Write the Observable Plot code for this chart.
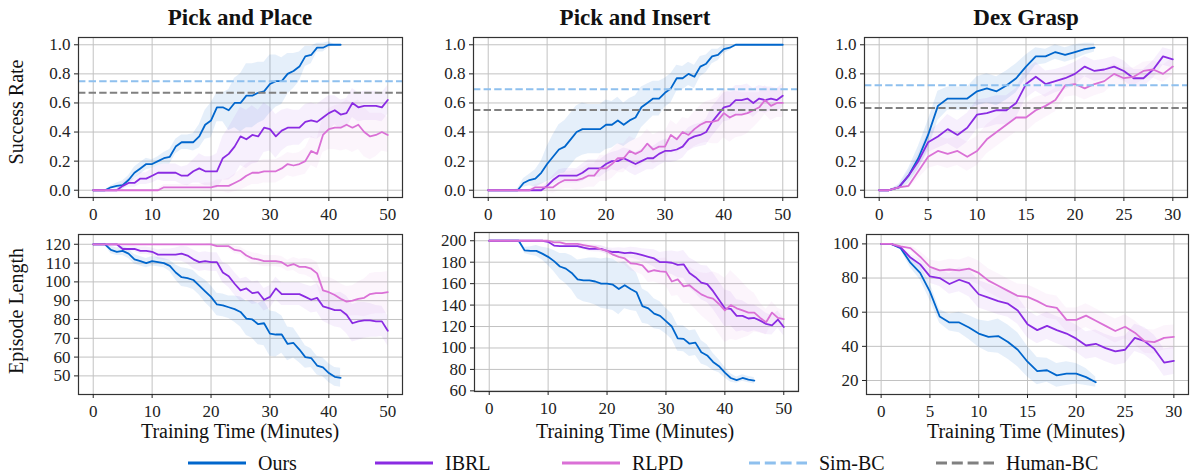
<!DOCTYPE html>
<html><head><meta charset="utf-8">
<script src="https://cdn.jsdelivr.net/npm/d3@7"></script>
<script src="https://cdn.jsdelivr.net/npm/@observablehq/plot@0.6"></script>
<style>
body{margin:0;background:#fff;}
#root{position:relative;width:1190px;height:472px;overflow:hidden;font-family:"Liberation Serif","Times New Roman",serif;background:#fff;}
#root svg.panel{position:absolute;}
#overlay{position:absolute;left:0;top:0;}
</style></head><body><div id="root"></div>
<script>
// ---------- categories / labels ----------
const methods = ["Ours", "IBRL", "RLPD", "Sim-BC", "Human-BC"];
const taskTitles = ["Pick and Place", "Pick and Insert", "Dex Grasp"];
const rowLabels = ["Success Rate", "Episode Length"];
const xLabel = "Training Time (Minutes)";
const xTicksLong = [0, 10, 20, 30, 40, 50];
const xTicksShort = [0, 5, 10, 15, 20, 25, 30];
const yTicksSuccess = [0, 0.2, 0.4, 0.6, 0.8, 1.0];
const yTicksPPLen = [50, 60, 70, 80, 90, 100, 110, 120];
const yTicksPILen = [60, 80, 100, 120, 140, 160, 180, 200];
const yTicksDexLen = [20, 40, 60, 80, 100];

// ---------- Pick and Place : success rate (index = minute) ----------
const ppSuccOurs = [0,0,0,0.02,0.03,0.035,0.07,0.12,0.15,0.18, 0.18,0.2,0.22,0.23,0.3,0.33,0.33,0.33,0.37,0.45, 0.48,0.57,0.57,0.55,0.6,0.6,0.65,0.65,0.67,0.68, 0.73,0.75,0.75,0.8,0.82,0.85,0.92,0.93,0.98,0.98, 1,1,1];
const ppSuccOursStd = [0,0,0,0.01,0.02,0.03,0.03,0.04,0.04,0.04, 0.03,0.03,0.04,0.05,0.05,0.05,0.05,0.06,0.08,0.1, 0.12,0.1,0.1,0.14,0.17,0.2,0.22,0.22,0.21,0.2, 0.2,0.18,0.16,0.14,0.12,0.1,0.07,0.06,0.03,0.03, 0.02,0,0];
const ppSuccIBRL = [0,0,0,0,0,0.03,0.05,0.05,0.08,0.08, 0.1,0.12,0.12,0.12,0.12,0.1,0.1,0.13,0.15,0.13, 0.13,0.13,0.22,0.25,0.3,0.37,0.35,0.38,0.37,0.43, 0.42,0.37,0.41,0.43,0.43,0.43,0.47,0.48,0.47,0.5, 0.53,0.55,0.52,0.53,0.6,0.57,0.58,0.58,0.58,0.57, 0.62];
const ppSuccIBRLStd = [0,0,0,0,0.01,0.02,0.03,0.03,0.04,0.04, 0.05,0.05,0.06,0.06,0.06,0.06,0.07,0.08,0.1,0.1, 0.1,0.12,0.15,0.18,0.2,0.2,0.2,0.2,0.18,0.17, 0.15,0.15,0.14,0.13,0.12,0.12,0.12,0.12,0.12,0.12, 0.12,0.1,0.1,0.1,0.1,0.1,0.1,0.1,0.1,0.1, 0.1];
const ppSuccRLPD = [0,0,0,0,0,0,0,0,0,0, 0,0,0.02,0.02,0.02,0.02,0.02,0.02,0.02,0.02, 0.02,0.03,0.03,0.03,0.05,0.07,0.1,0.12,0.12,0.13, 0.13,0.13,0.15,0.18,0.17,0.18,0.2,0.27,0.25,0.38, 0.42,0.43,0.43,0.45,0.43,0.45,0.4,0.37,0.38,0.4, 0.38];
const ppSuccRLPDStd = [0,0,0,0,0,0,0,0,0,0, 0,0.01,0.02,0.02,0.02,0.02,0.02,0.02,0.02,0.03, 0.03,0.04,0.04,0.05,0.06,0.07,0.08,0.08,0.08,0.08, 0.08,0.08,0.08,0.08,0.08,0.08,0.09,0.1,0.1,0.12, 0.14,0.15,0.16,0.17,0.17,0.17,0.17,0.16,0.15,0.13, 0.12];
const ppSimBC = 0.75;
const ppHumanBC = 0.67;

// ---------- Pick and Insert : success rate ----------
const piSuccOurs = [0,0,0,0,0,0,0.05,0.07,0.08,0.12, 0.18,0.23,0.28,0.3,0.35,0.4,0.42,0.42,0.42,0.42, 0.45,0.45,0.48,0.45,0.48,0.5,0.57,0.6,0.63,0.63, 0.67,0.7,0.77,0.77,0.8,0.78,0.85,0.87,0.92,0.93, 0.97,0.98,1,1,1,1,1,1,1,1, 1];
const piSuccOursStd = [0,0,0,0,0,0.01,0.03,0.04,0.06,0.08, 0.12,0.15,0.17,0.18,0.18,0.18,0.18,0.17,0.17,0.17, 0.17,0.16,0.16,0.15,0.15,0.15,0.14,0.13,0.12,0.12, 0.1,0.1,0.09,0.08,0.08,0.08,0.07,0.06,0.05,0.04, 0.03,0.02,0,0,0,0,0,0,0,0, 0];
const piSuccIBRL = [0,0,0,0,0,0,0,0,0,0, 0.03,0.07,0.1,0.1,0.1,0.1,0.12,0.15,0.15,0.15, 0.18,0.2,0.2,0.22,0.2,0.18,0.2,0.22,0.22,0.25, 0.27,0.27,0.28,0.3,0.35,0.37,0.38,0.4,0.47,0.52, 0.57,0.58,0.62,0.62,0.63,0.6,0.63,0.62,0.63,0.62, 0.65];
const piSuccIBRLStd = [0,0,0,0,0,0,0,0,0,0.01, 0.02,0.03,0.04,0.05,0.05,0.05,0.06,0.06,0.06,0.06, 0.06,0.06,0.07,0.07,0.08,0.08,0.08,0.08,0.08,0.08, 0.08,0.08,0.08,0.08,0.08,0.08,0.08,0.09,0.1,0.1, 0.1,0.1,0.1,0.1,0.1,0.1,0.09,0.09,0.08,0.08, 0.08];
const piSuccRLPD = [0,0,0,0,0,0,0,0,0.02,0.02, 0.02,0.02,0.05,0.07,0.07,0.07,0.08,0.1,0.1,0.15, 0.15,0.18,0.22,0.22,0.27,0.25,0.27,0.32,0.28,0.3, 0.3,0.38,0.35,0.4,0.38,0.42,0.45,0.47,0.47,0.48, 0.53,0.5,0.52,0.52,0.53,0.55,0.57,0.62,0.58,0.6, 0.6];
const piSuccRLPDStd = [0,0,0,0,0,0,0,0.01,0.02,0.03, 0.03,0.04,0.05,0.06,0.06,0.07,0.07,0.08,0.08,0.09, 0.09,0.1,0.1,0.1,0.1,0.1,0.1,0.1,0.1,0.1, 0.1,0.1,0.1,0.1,0.11,0.12,0.13,0.14,0.15,0.16, 0.17,0.17,0.16,0.15,0.14,0.12,0.1,0.1,0.1,0.1, 0.1];
const piSimBC = 0.694;
const piHumanBC = 0.551;

// ---------- Dex Grasp : success rate ----------
const dxSuccOurs = [0,0,0.02,0.1,0.22,0.38,0.58,0.63,0.63,0.63, 0.68,0.7,0.68,0.72,0.77,0.85,0.92,0.92,0.95,0.93, 0.95,0.97,0.98];
const dxSuccOursStd = [0,0,0.02,0.05,0.08,0.1,0.1,0.08,0.08,0.08, 0.1,0.1,0.1,0.1,0.1,0.08,0.06,0.05,0.05,0.05, 0.05,0.04,0.03];
const dxSuccIBRL = [0,0,0.02,0.1,0.2,0.33,0.37,0.42,0.38,0.43, 0.52,0.53,0.55,0.55,0.6,0.73,0.78,0.73,0.75,0.77, 0.8,0.85,0.82,0.83,0.85,0.82,0.77,0.77,0.83,0.92, 0.9];
const dxSuccIBRLStd = [0,0,0.01,0.03,0.05,0.07,0.08,0.1,0.1,0.1, 0.1,0.1,0.1,0.1,0.1,0.1,0.1,0.09,0.08,0.08, 0.08,0.07,0.07,0.07,0.07,0.07,0.06,0.06,0.06,0.06, 0.06];
const dxSuccRLPD = [0,0,0.02,0.03,0.13,0.23,0.27,0.25,0.27,0.23, 0.27,0.35,0.4,0.45,0.5,0.5,0.55,0.58,0.62,0.72, 0.73,0.7,0.73,0.75,0.8,0.77,0.78,0.82,0.83,0.8, 0.85];
const dxSuccRLPDStd = [0,0,0.01,0.02,0.05,0.08,0.1,0.1,0.1,0.1, 0.1,0.1,0.1,0.1,0.1,0.1,0.09,0.08,0.08,0.08, 0.08,0.08,0.08,0.08,0.07,0.07,0.06,0.06,0.06,0.06, 0.06];
const dxSimBC = 0.722;
const dxHumanBC = 0.565;

// ---------- Pick and Place : episode length ----------
const ppLenOurs = [120,120,120,117,116,116.5,115,112,111,110, 111,110.5,110,108.5,105,102.5,102,101,98,95, 92,88,87.5,86.5,85.5,84,80.5,80,77.5,78, 72.5,72,72,67,67.5,64,60,59.5,55.5,54.5, 51.5,49.5,49];
const ppLenOursStd = [0,0,0.5,2,2,2.5,2.5,2.5,2.5,2.5, 2.5,2.5,2.5,3,4,5,5,5,5,6, 6,6,6,6,7,8,9,10,11,12, 12,12,10,9,8,7,6,5,5,5, 5,5,5];
const ppLenIBRL = [120,120,120,120,120,117.5,117.5,117.5,116.5,116.5, 116,114.5,114.5,114.5,114.5,115,114,112,110.5,111, 110.5,110.5,105,103,99,95.5,96.5,94,94.5,90.5, 92,96.5,93.5,93.5,93.5,93.5,92,90.5,91.5,87, 86,85,85,82.5,78,79,79.5,79.5,79,79, 74];
const ppLenIBRLStd = [0,0,0,0,0.5,1,1.5,1.5,2,2, 2,2.5,3,3,3.5,4,4.5,5,5,5, 5,5,5.5,6,6,6,6,6,6,6, 6,6,6,6,6,6,6.5,7,7.5,8, 8.5,9,9.5,10,10,10,9.5,9,8.5,8, 8];
const ppLenRLPD = [120,120,120,120,120,120,120,120,120,120, 120,120,120,120,120,120,120,120,120,120, 120,119,119,119,117,116.5,114,112.5,112,111, 111,111,110.5,108.5,109.5,108,108,107,104.5,95.5, 94.5,93,91,89.5,90,91,91.5,93.5,94,94, 94.5];
const ppLenRLPDStd = [0,0,0,0,0,0,0,0,0,0, 0,0,0,0,0,0,0,0,0,0, 0.5,1,1,1.5,2,2,2.5,3,3,3, 3,3,3,3,3.5,4,4.5,5,6,7, 8,8,8,8,8,9,10,11,11,11, 11];

// ---------- Pick and Insert : episode length ----------
const piLenOurs = [200,200,200,200,200,200,191,190.5,190.5,188, 185,181,176,174,170,164,163,163,162,160, 160,159,155,158.5,155,152,139,137,132,130, 125,120,109,108.5,104,105,96,93,87,83, 77,72,70,72,70.5,69.5];
const piLenOursStd = [0,0,0,0,0,0,3,4,5,6, 8,10,12,14,16,18,20,21,22,23, 24,24,24,22,20,18,16,15,14,13, 12,12,12,12,12,12,11,10,8,6, 5,4,3,3,3,3];
const piLenIBRL = [200,200,200,200,200,200,200,200,200,200, 199,195.5,195,195,195,195,193.5,192.5,192.5,192.5, 190.5,189.5,189.5,188.5,189,188,186.5,185,183.5,180, 180,179.5,177.5,178,170,166,161,159.5,153,145, 137,136.5,130,130,127.5,128,125.5,122.5,121,126.5, 119.5];
const piLenIBRLStd = [0,0,0,0,0,0,0,0,0,0, 0.5,1,1,1.5,1.5,2,2,2.5,3,3, 3,3.5,4,4.5,5,5.5,6,7,8,9, 10,11,12,13,14,15,16,17,17,17, 17,16,15,14,13,12,11,10,9,8, 8];
const piLenRLPD = [200,200,200,200,200,200,200,200,200,200, 200,198.5,198.5,197,197,197,196,195,194,192, 190.5,187,185,183.5,179,178.5,177,171,172.5,171.5, 171,162,164,157.5,158.5,154,150,147.5,146,141, 135,140,137,135,133,133,128,124,133,128, 127];
const piLenRLPDStd = [0,0,0,0,0,0,0,0,0,0, 0,0.5,1,1,1.5,1.5,2,2,2.5,3, 3,4,5,6,7,8,9,10,11,12, 13,14,15,16,17,18,20,22,25,28, 30,32,30,26,22,18,14,12,10,9, 8];

// ---------- Dex Grasp : episode length ----------
const dxLenOurs = [100,100,97.5,89,83,72,57.5,54,54,51, 47.5,45.5,46,42.5,38,31,25.5,26,23,24, 24,22,19];
const dxLenOursStd = [0,0,1,3,4,5,4,5,6,7, 8,9,10,10,10,9,8,7,7,7, 6,5,3];
const dxLenIBRL = [100,100,98,92,88,81,80,76.5,79,77, 70.5,68.5,66.5,65,61,53,49.5,52,49.5,47.5, 44.5,40.5,41.5,39,37,38,45,43,38.5,30.5, 31.5];
const dxLenIBRLStd = [0,0,1,2,3,4,5,6,7,8, 8,8,8,8,8,8,8,8,8,8, 8,8,8,8,8,8,8,8,8,8, 8];
const dxLenRLPD = [100,100,98.5,97.5,92.5,86.5,84.5,85,84.5,85.5, 83,78.5,75.5,72.5,69.5,69,66.5,63.5,62.5,55.5, 55.5,58,55,52,49,51.5,48,43,42.5,45, 45.5];
const dxLenRLPDStd = [0,0,0.5,1.5,3,4,5,6,6,7, 7,7,7,7,7,7,7,7,7,7, 7,7,7,7,7,7,7,7,7,7, 7];

// ---------- styling ----------
const colors = {"Ours": "#0066cc", "IBRL": "#8a2be2", "RLPD": "#da70d6", "Sim-BC": "#8ec0ee", "Human-BC": "#808080"};
const FONT = "Liberation Serif";

function rows(values, std) {
  return values.map((v, i) => ({t: i, v, lo: v - std[i], hi: v + std[i]}));
}

const panels = [
  {L:78, R:402, T:37, B:197, xd:[-2.5,52.5], yd:[-0.05,1.05], xt:xTicksLong, yt:yTicksSuccess, fmt:d3.format(".1f"),
   s:[[ppSuccOurs,ppSuccOursStd],[ppSuccIBRL,ppSuccIBRLStd],[ppSuccRLPD,ppSuccRLPDStd]], refs:[ppSimBC, ppHumanBC]},
  {L:473, R:797, T:37, B:197, xd:[-2.5,52.5], yd:[-0.05,1.05], xt:xTicksLong, yt:yTicksSuccess, fmt:d3.format(".1f"),
   s:[[piSuccOurs,piSuccOursStd],[piSuccIBRL,piSuccIBRLStd],[piSuccRLPD,piSuccRLPDStd]], refs:[piSimBC, piHumanBC]},
  {L:864, R:1187, T:37, B:197, xd:[-1.5,31.5], yd:[-0.05,1.05], xt:xTicksShort, yt:yTicksSuccess, fmt:d3.format(".1f"),
   s:[[dxSuccOurs,dxSuccOursStd],[dxSuccIBRL,dxSuccIBRLStd],[dxSuccRLPD,dxSuccRLPDStd]], refs:[dxSimBC, dxHumanBC]},
  {L:78, R:402, T:234, B:394, xd:[-2.5,52.5], yd:[40.1,125.2], xt:xTicksLong, yt:yTicksPPLen, fmt:d3.format("d"),
   s:[[ppLenOurs,ppLenOursStd],[ppLenIBRL,ppLenIBRLStd],[ppLenRLPD,ppLenRLPDStd]], refs:[]},
  {L:474, R:798, T:232, B:391, xd:[-2.5,52.5], yd:[59.4,207.7], xt:xTicksLong, yt:yTicksPILen, fmt:d3.format("d"),
   s:[[piLenOurs,piLenOursStd],[piLenIBRL,piLenIBRLStd],[piLenRLPD,piLenRLPDStd]], refs:[]},
  {L:866, R:1188, T:234, B:394, xd:[-1.5,31.5], yd:[11.8,105.5], xt:xTicksShort, yt:yTicksDexLen, fmt:d3.format("d"),
   s:[[dxLenOurs,dxLenOursStd],[dxLenIBRL,dxLenIBRLStd],[dxLenRLPD,dxLenRLPDStd]], refs:[]}
];

const root = document.getElementById("root");
const mL = 50, mR = 6, mT = 6, mB = 32;

panels.forEach(p => {
  const lineNames = ["Ours", "IBRL", "RLPD"];
  const data = p.s.map(([v, sd]) => rows(v, sd));
  const marks = [
    Plot.gridX(p.xt, {stroke: "#c2c2c2", strokeOpacity: 1, strokeWidth: 1}),
    Plot.gridY(p.yt, {stroke: "#c2c2c2", strokeOpacity: 1, strokeWidth: 1}),
  ];
  data.forEach((d, k) => marks.push(Plot.areaY(d, {x: "t", y1: "lo", y2: "hi", fill: colors[lineNames[k]], fillOpacity: k === 0 ? 0.1 : 0.07, clip: true})));
  data.forEach((d, k) => marks.push(Plot.lineY(d, {x: "t", y: "v", stroke: colors[lineNames[k]], strokeWidth: 1.8, clip: true})));
  p.refs.forEach((r, k) => marks.push(Plot.ruleY([r], {stroke: colors[k === 0 ? "Sim-BC" : "Human-BC"], strokeWidth: 2, strokeDasharray: "7.4,3.2"})));
  marks.push(Plot.frame({stroke: "#333", strokeWidth: 1.2}));
  marks.push(Plot.axisX({ticks: p.xt, tickSize: 4, tickPadding: 6, label: null, tickFormat: d3.format("d"), fontSize: 17, fontFamily: FONT, fontVariant: "normal"}));
  marks.push(Plot.axisY({ticks: p.yt, tickSize: 4, tickPadding: 4, label: null, tickFormat: p.fmt, fontSize: 17, fontFamily: FONT, fontVariant: "normal"}));
  const svg = Plot.plot({
    width: (p.R - p.L) + mL + mR,
    height: (p.B - p.T) + mT + mB,
    marginLeft: mL, marginRight: mR, marginTop: mT, marginBottom: mB,
    x: {domain: p.xd},
    y: {domain: p.yd},
    style: {fontFamily: FONT, fontSize: "17px", color: "#222", background: "transparent", overflow: "visible"},
    marks
  });
  svg.classList.add("panel");
  svg.style.left = (p.L - mL) + "px";
  svg.style.top = (p.T - mT) + "px";
  svg.querySelectorAll("text").forEach(t => { t.style.fontFamily = "'Liberation Serif', serif"; });
  root.appendChild(svg);
});

// ---------- overlay text: titles, axis labels, legend ----------
const ns = "http://www.w3.org/2000/svg";
const ov = document.createElementNS(ns, "svg");
ov.setAttribute("id", "overlay");
ov.setAttribute("width", 1190);
ov.setAttribute("height", 472);
ov.style.fontFamily = "'Liberation Serif', serif";
function txt(x, y, s, attrs) {
  const t = document.createElementNS(ns, "text");
  t.setAttribute("x", x); t.setAttribute("y", y);
  t.textContent = s;
  t.setAttribute("fill", "#111");
  for (const k in attrs) t.setAttribute(k, attrs[k]);
  ov.appendChild(t);
  return t;
}
const centers = [240, 635, 1026];
taskTitles.forEach((s, i) => txt(centers[i], 25, s, {"text-anchor": "middle", "font-size": 23, "font-weight": "bold"}));
centers.forEach(c => txt(c, 438, xLabel, {"text-anchor": "middle", "font-size": 20}));
txt(0, 0, rowLabels[0], {"text-anchor": "middle", "font-size": 20, transform: "translate(23,112) rotate(-90)"});
txt(0, 0, rowLabels[1], {"text-anchor": "middle", "font-size": 20, transform: "translate(23,311) rotate(-90)"});

methods.forEach((m, i) => {
  const x0 = 188 + i * 187;
  const l = document.createElementNS(ns, "line");
  l.setAttribute("x1", x0); l.setAttribute("x2", x0 + 58);
  l.setAttribute("y1", 463); l.setAttribute("y2", 463);
  l.setAttribute("stroke", colors[m]); l.setAttribute("stroke-width", 3);
  if (i >= 3) l.setAttribute("stroke-dasharray", "11,4.8");
  ov.appendChild(l);
  txt(x0 + 70, 469.5, m, {"font-size": 20});
});
root.insertBefore(ov, root.firstChild);
</script></body></html>
